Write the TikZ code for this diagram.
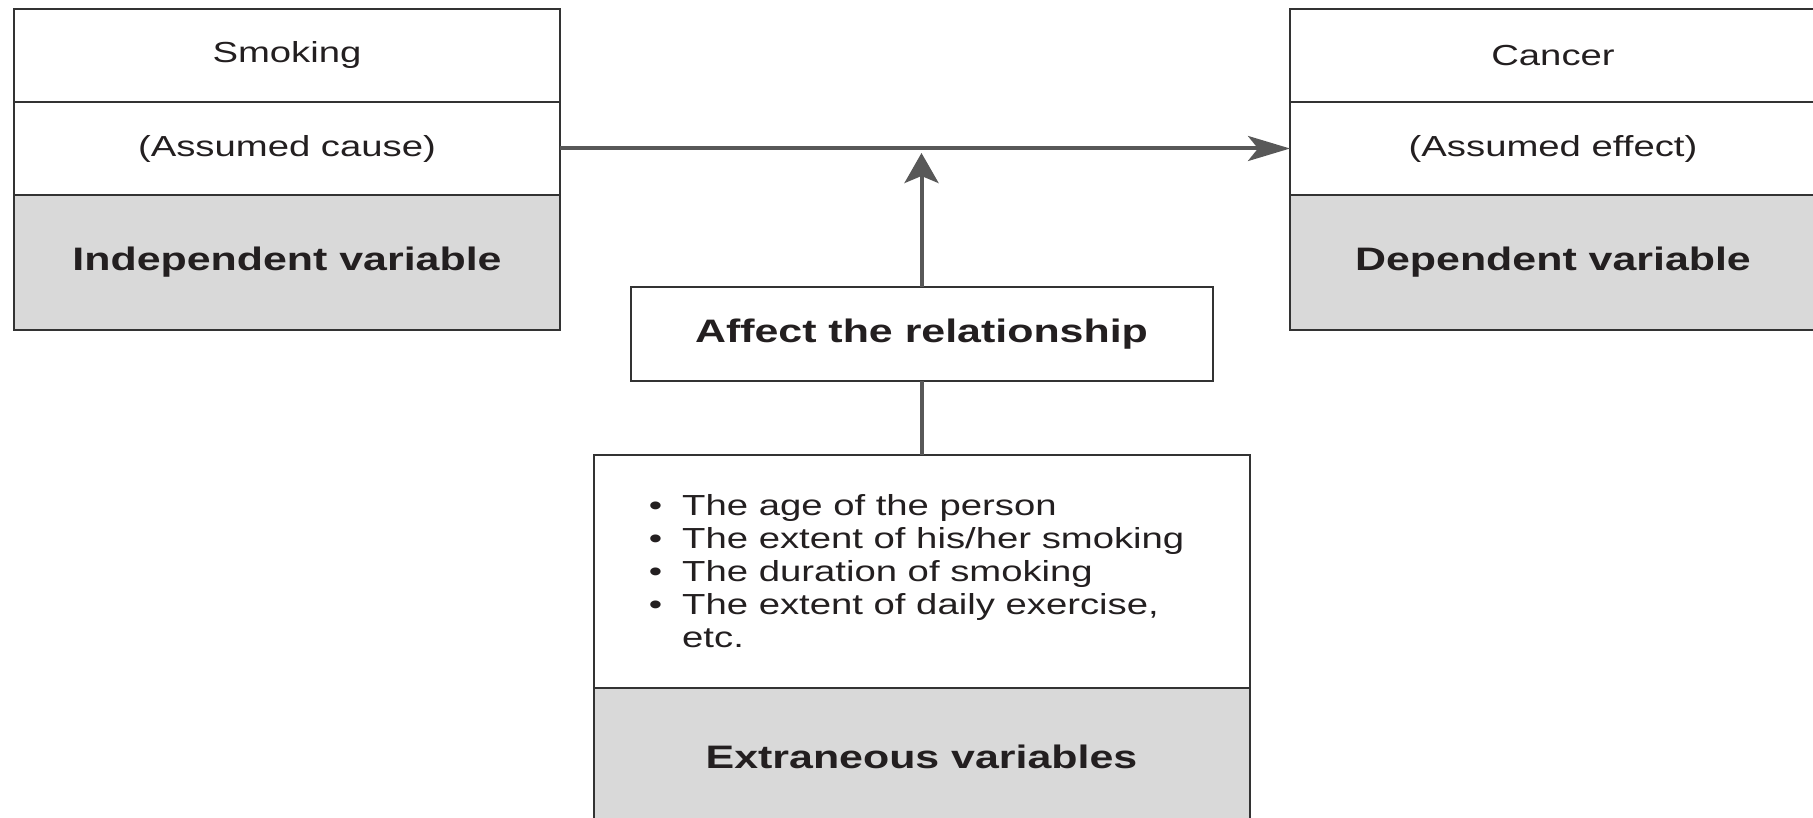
\documentclass[tikz,border=0pt]{standalone}
\usepackage{fontspec}
\setmainfont[FakeStretch=1.32]{Liberation Sans}
\usetikzlibrary{arrows.meta}
\definecolor{boxline}{HTML}{333333}
\definecolor{arrowgray}{HTML}{585858}
\definecolor{fillgray}{HTML}{D9D9D9}
\definecolor{txt}{HTML}{231F20}
\tikzset{
  cell/.style={draw=boxline, line width=2pt, inner sep=0pt, outer sep=0pt, text=txt,
    font=\fontsize{29}{33}\selectfont},
  greycell/.style={cell, fill=fillgray, font=\fontsize{32.5}{36}\selectfont\bfseries},
  boldcell/.style={cell, font=\fontsize{32.5}{36}\selectfont\bfseries},
  conn/.style={draw=arrowgray, line width=4pt},
  htip/.style={-{Stealth[length=42pt,width=25pt,inset=10pt]}},
  vtip/.style={-{Stealth[length=30pt,width=34pt,inset=7pt]}}
}
\begin{document}
\begin{tikzpicture}[x=1pt,y=-1pt]
\useasboundingbox (0,0) rectangle (1813,818);
\clip (0,0) rectangle (1813,818);
% left box
\node[cell, minimum width=546pt, minimum height=93pt] (smoking) at (287,55.5) {Smoking};
\node[cell, minimum width=546pt, minimum height=93pt] (cause) at (287,148.5) {(Assumed cause)};
\node[greycell, minimum width=546pt, minimum height=135pt] (indep) at (287,262.5) {Independent variable};
% right box
\node[cell, minimum width=526pt, minimum height=93pt] (cancer) at (1553,55.5) {Cancer};
\node[cell, minimum width=526pt, minimum height=93pt] (effect) at (1553,148.5) {(Assumed effect)};
\node[greycell, minimum width=526pt, minimum height=135pt] (dep) at (1553,262.5) {Dependent variable};
% middle
\node[boldcell, minimum width=582pt, minimum height=94pt] (affect) at (921.5,334) {Affect the relationship};
\node[cell, minimum width=656pt, minimum height=233pt] (extA) at (921.5,571.5) {};
\node[greycell, minimum width=656pt, minimum height=137pt] (extB) at (921.5,756.5) {Extraneous variables};
\node[anchor=north west, inner sep=0pt, align=left, text=txt, font=\fontsize{29}{33}\selectfont] (extlist) at (682,494)
  {\llap{\textbullet\hspace{20pt}}The age of the person\\
   \llap{\textbullet\hspace{20pt}}The extent of his/her smoking\\
   \llap{\textbullet\hspace{20pt}}The duration of smoking\\
   \llap{\textbullet\hspace{20pt}}The extent of daily exercise,\\
   etc.};
% connectors
\coordinate (meet) at (921.5,153);
\draw[conn, htip] (cause.east) -- (effect.west);
\draw[conn, vtip] (affect.north) -- (meet);
\draw[conn] (extA.north) -- (affect.south);
\end{tikzpicture}
\end{document}
